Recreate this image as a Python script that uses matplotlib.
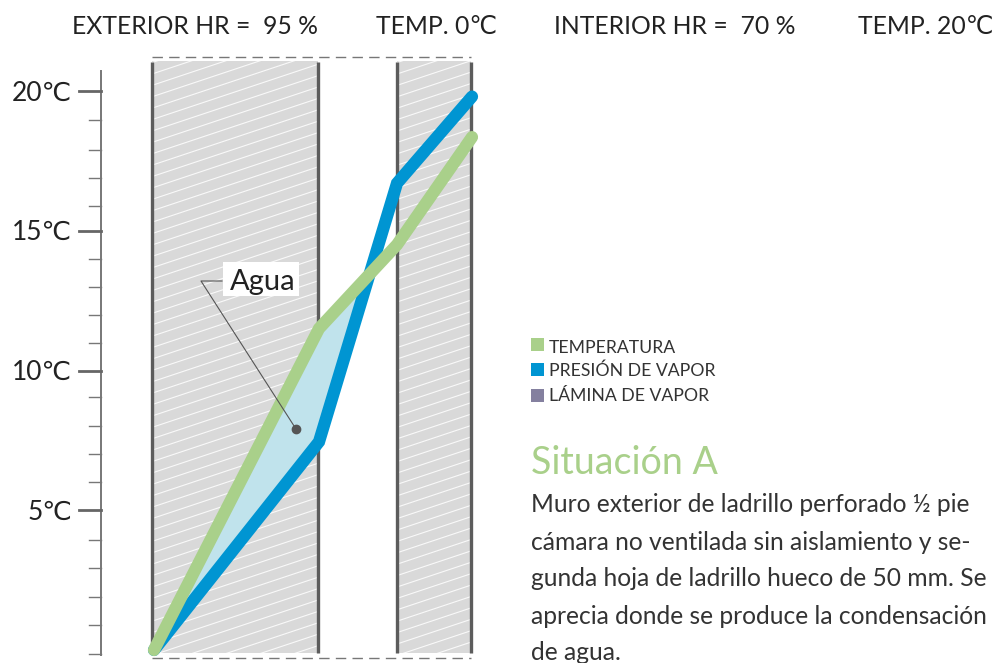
import numpy as np
import matplotlib
matplotlib.use("Agg")
import matplotlib.pyplot as plt
from matplotlib.patches import Rectangle

plt.rcParams["font.family"] = ["Lato", "DejaVu Sans"]

# wall position along the section, temperatures in degrees
section_x = [154, 319, 397, 472]
temperatura = [0.0, 11.5, 14.5, 18.35]
presion_vapor = [0.0, 7.45, 16.7, 19.8]

major_ticks = [0, 5, 10, 15, 20]
major_labels = ["", "5℃", "10℃", "15℃", "20℃"]
minor_ticks = [-0.15, 0.9, 1.9, 2.95, 3.95, 6.0, 7.0, 8.0, 9.05, 11.0, 12.0, 13.0, 14.0, 15.9, 16.9, 17.9, 18.95]

header_labels = ["EXTERIOR HR =  95 %", "TEMP. 0℃", "INTERIOR HR =  70 %", "TEMP. 20℃"]
legend_labels = ["TEMPERATURA", "PRESIÓN DE VAPOR", "LÁMINA DE VAPOR"]
legend_colors = ["#a9d08a", "#0095d2", "#84809f"]
body_lines = [
    "Muro exterior de ladrillo perforado ½ pie",
    "cámara no ventilada sin aislamiento y se-",
    "gunda hoja de ladrillo hueco de 50 mm. Se",
    "aprecia donde se produce la condensación",
    "de agua.",
]

GREEN = "#a9d08a"
BLUE = "#0095d2"
WALL = "#5c5c5c"
PX_PER_DEG = 27.95


def y_of(px):
    return (650 - px) / PX_PER_DEG


fig = plt.figure(figsize=(10, 6.63), dpi=100)
ax = fig.add_axes([0, 0, 1, 1])
ax.set_xlim(0, 1000)
ax.set_ylim(y_of(663), y_of(0))
ax.axis("off")

# hatched wall blocks
for x0, x1 in [(152, 318), (397, 471)]:
    rect = Rectangle((x0, y_of(653)), x1 - x0, y_of(61) - y_of(653), fc="#d9d9d9", ec="none", zorder=1)
    ax.add_patch(rect)
    for start in np.arange(-40, 720, 11.4):
        ln, = ax.plot([x0, x1], [y_of(start), y_of(start - (x1 - x0) / 3.0)], color="white", lw=0.8, alpha=0.85, zorder=2)
        ln.set_clip_path(rect)
    for x in (x0, x1):
        ax.plot([x, x], [y_of(653), y_of(62)], color=WALL, lw=2.4, solid_capstyle="butt", zorder=3)

for py in (57, 657.5):
    ax.plot([152, 471], [y_of(py), y_of(py)], color="#777777", lw=1, dashes=(7.5, 4.5), zorder=1)

# water zone between the two curves
ax.fill_between(section_x, temperatura, presion_vapor, where=[t >= p for t, p in zip(temperatura, presion_vapor)],
                interpolate=True, color="#c0e3ec", lw=0, zorder=4)
ax.plot(section_x, presion_vapor, color=BLUE, lw=8.8, solid_joinstyle="miter", solid_capstyle="round", zorder=5)
ax.plot(section_x, temperatura, color=GREEN, lw=8.8, solid_joinstyle="miter", solid_capstyle="round", zorder=6)

# y scale
ax.plot([101, 101], [y_of(655), y_of(71)], color="#777777", lw=1.4, zorder=2)
for t in minor_ticks:
    ax.plot([89, 101], [t, t], color="#777777", lw=1, zorder=2)
for t, lab in zip(major_ticks, major_labels):
    if lab:
        ax.plot([79, 101], [t, t], color="#666666", lw=2, zorder=2)
        ax.text(72, t - 2 / PX_PER_DEG, lab, ha="right", va="center", fontsize=19, color="#222222")

# Agua callout
ax.plot([222, 201, 296], [y_of(281), y_of(281), y_of(429)], color="#555555", lw=0.8, zorder=7)
ax.plot([296], [y_of(429)], "o", color="#555555", ms=6, zorder=8)
ax.add_patch(Rectangle((223, y_of(296)), 76, y_of(262) - y_of(296), fc="white", ec="none", zorder=7))
ax.text(263, y_of(282), "Agua", ha="center", va="center", fontsize=21, color="#222222", zorder=8)

# header row
for x, lab in zip([72, 376, 554, 858], header_labels):
    ax.text(x, y_of(26), lab, ha="left", va="center", fontsize=17.8, color="#222222")

# legend
for py, ty, lab, col in zip([344, 369, 395], [348, 371, 396], legend_labels, legend_colors):
    ax.add_patch(Rectangle((531, y_of(py + 6.5)), 13, 13 / PX_PER_DEG, fc=col, ec="none"))
    ax.text(549, y_of(ty), lab, ha="left", va="center", fontsize=12.7, color="#333333")

ax.text(531, y_of(463), "Situación A", ha="left", va="center", fontsize=27, color=GREEN)
for py, line in zip([504, 542, 579, 616, 653], body_lines):
    ax.text(531, y_of(py), line, ha="left", va="center", fontsize=17.7, color="#333333")

fig.savefig("out.png", dpi=100)
